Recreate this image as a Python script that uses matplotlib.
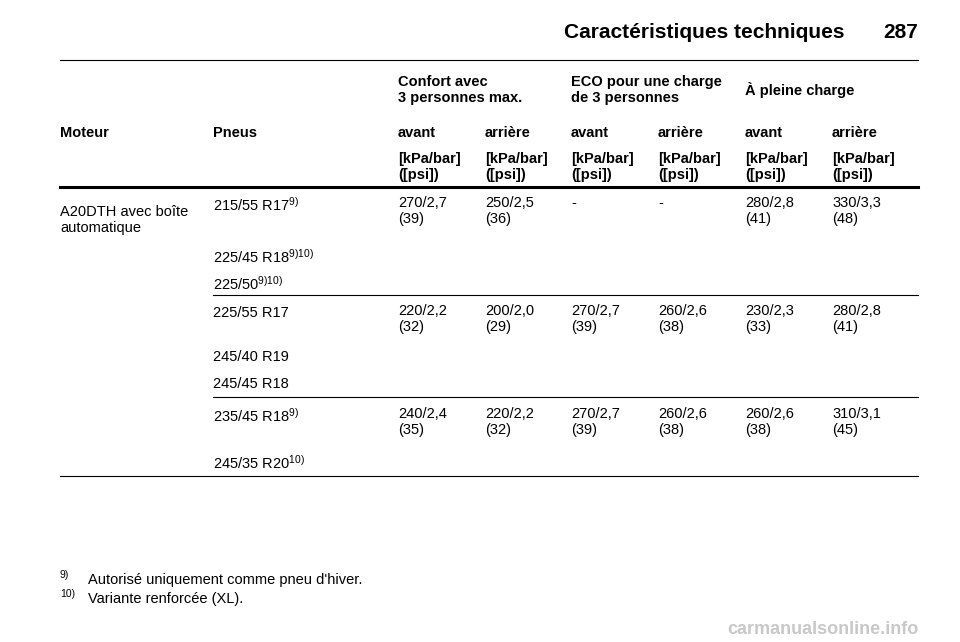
import matplotlib
matplotlib.use("Agg")
import matplotlib.pyplot as plt
from matplotlib.lines import Line2D

plt.rcParams['font.family'] = ['Liberation Sans', 'DejaVu Sans']
plt.rcParams['mathtext.fontset'] = 'custom'
plt.rcParams['mathtext.rm'] = 'Liberation Sans'
plt.rcParams['mathtext.it'] = 'Liberation Sans'
plt.rcParams['mathtext.default'] = 'rm'

title = "Caractéristiques techniques"
page = "287"
group_headers = [("Confort avec\n3 personnes max.", 398, 90),
                 ("ECO pour une charge\nde 3 personnes", 571, 90),
                 ("À pleine charge", 745, 90)]
col_labels = ["avant", "arrière", "avant", "arrière", "avant", "arrière"]
col_x = [398, 485, 571, 658, 745, 832]
engine = "A20DTH avec boîte\nautomatique"
tires = [
    ["215/55 R17$^{9)}$", "225/45 R18$^{9)10)}$", "225/50$^{9)10)}$"],
    ["225/55 R17", "245/40 R19", "245/45 R18"],
    ["235/45 R18$^{9)}$", "245/35 R20$^{10)}$"],
]
tire_y = [[205, 257, 284], [313, 357, 384], [416, 463]]
values = [
    ["270/2,7\n(39)", "250/2,5\n(36)", "-", "-", "280/2,8\n(41)", "330/3,3\n(48)"],
    ["220/2,2\n(32)", "200/2,0\n(29)", "270/2,7\n(39)", "260/2,6\n(38)", "230/2,3\n(33)", "280/2,8\n(41)"],
    ["240/2,4\n(35)", "220/2,2\n(32)", "270/2,7\n(39)", "260/2,6\n(38)", "260/2,6\n(38)", "310/3,1\n(45)"],
]
footnotes = [("9)", "Autorisé uniquement comme pneu d'hiver."), ("10)", "Variante renforcée (XL).")]

W, H = 960, 642
fig = plt.figure(figsize=(9.6, 6.42), dpi=100)

def T(x, y, s, **kw):
    kw.setdefault('fontsize', 10.5)
    kw.setdefault('va', 'center')
    kw.setdefault('linespacing', 1.15)
    fig.text(x / W, 1 - y / H, s, **kw)

def L(x0, x1, y, lw=0.8):
    fig.add_artist(Line2D([x0 / W, x1 / W], [1 - y / H, 1 - y / H], color='black', lw=lw))

T(845, 32, title, fontsize=15, fontweight='bold', ha='right')
T(918, 32, page, fontsize=15, fontweight='bold', ha='right')
L(60, 918, 60)
for s, x, y in group_headers:
    T(x, y if '\n' not in s else 90, s, fontweight='bold')
T(60, 133, "Moteur", fontweight='bold')
T(213, 133, "Pneus", fontweight='bold')
for x, c in zip(col_x, col_labels):
    T(x, 133, c, fontweight='bold')
    T(x, 167, "[kPa/bar]\n([psi])", fontweight='bold')
L(60, 918, 187, lw=2.2)
T(60, 205, engine, va='top')
for g in range(3):
    for s, y in zip(tires[g], tire_y[g]):
        T(213, y, s)
    for x, v in zip(col_x, values[g]):
        T(x, tire_y[g][0] - 9, v, va='top')
L(213, 918, 295)
L(213, 918, 397)
L(60, 918, 476)
for i, (n, s) in enumerate(footnotes):
    T(60, 575 + 19 * i, n, fontsize=7.5)
    T(88, 580 + 19 * i, s)
T(918, 630, "carmanualsonline.info", fontsize=13, color='#c8c8c8', ha='right', fontweight='bold')
fig.savefig("out.png", dpi=100)
